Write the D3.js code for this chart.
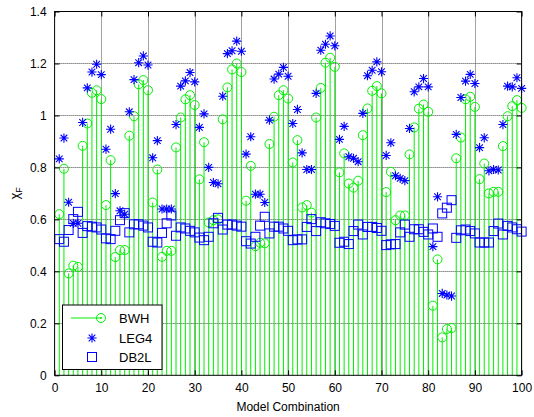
<!DOCTYPE html>
<html>
<head>
<meta charset="utf-8">
<script src="https://cdn.jsdelivr.net/npm/d3@7/dist/d3.min.js"></script>
<style>
  html, body { margin: 0; padding: 0; background: #fff; }
  svg { display: block; font-family: "Liberation Sans", Arial, sans-serif; }
</style>
</head>
<body>
<svg id="chart" width="534" height="417"></svg>
<script>
// Model combination index 1..100
const combos = d3.range(1, 101);

// chi_F per model combination
const bwh = [
  0.620, 0.795, 0.392, 0.422, 0.417, 0.883, 0.969, 1.087, 1.097, 1.063,
  0.655, 0.828, 0.455, 0.482, 0.482, 0.922, 0.997, 1.120, 1.136, 1.097,
  0.665, 0.792, 0.456, 0.479, 0.479, 0.877, 0.992, 1.062, 1.078, 1.040,
  0.754, 0.897, 0.588, 0.597, 0.600, 0.985, 1.108, 1.177, 1.200, 1.167,
  0.672, 0.806, 0.497, 0.510, 0.508, 0.890, 0.995, 1.078, 1.097, 1.065,
  0.819, 0.905, 0.646, 0.655, 0.626, 0.992, 1.106, 1.203, 1.222, 1.187,
  0.781, 0.854, 0.738, 0.722, 0.749, 0.924, 1.027, 1.095, 1.113, 1.085,
  0.705, 0.783, 0.597, 0.615, 0.615, 0.850, 0.954, 1.026, 1.042, 1.014,
  0.268, 0.446, 0.146, 0.178, 0.182, 0.835, 0.915, 1.062, 1.072, 1.033,
  0.755, 0.815, 0.700, 0.706, 0.706, 0.882, 0.997, 1.036, 1.059, 1.029
];

const leg4 = [
  0.833, 0.913, 0.666, 0.585, 0.585, 0.973, 1.106, 1.167, 1.197, 1.157,
  0.870, 0.947, 0.699, 0.633, 0.620, 1.014, 1.138, 1.203, 1.229, 1.194,
  0.837, 0.903, 0.640, 0.640, 0.640, 0.965, 1.113, 1.133, 1.165, 1.129,
  0.954, 1.006, 0.800, 0.742, 0.737, 1.074, 1.238, 1.249, 1.286, 1.247,
  0.851, 0.918, 0.697, 0.697, 0.665, 0.982, 1.140, 1.159, 1.185, 1.151,
  0.969, 1.023, 0.856, 0.792, 0.792, 1.085, 1.251, 1.274, 1.306, 1.268,
  0.908, 0.958, 0.841, 0.835, 0.822, 1.008, 1.153, 1.174, 1.206, 1.168,
  0.846, 0.895, 0.768, 0.758, 0.749, 0.950, 1.091, 1.110, 1.142, 1.110,
  0.495, 0.687, 0.315, 0.309, 0.305, 0.927, 1.069, 1.132, 1.158, 1.123,
  0.876, 0.914, 0.787, 0.792, 0.790, 0.965, 1.113, 1.110, 1.145, 1.104
];

const db2l = [
  0.524, 0.514, 0.559, 0.601, 0.629, 0.548, 0.574, 0.572, 0.569, 0.561,
  0.527, 0.524, 0.556, 0.597, 0.624, 0.550, 0.581, 0.581, 0.576, 0.569,
  0.514, 0.511, 0.548, 0.585, 0.615, 0.537, 0.569, 0.565, 0.556, 0.550,
  0.530, 0.520, 0.533, 0.585, 0.606, 0.561, 0.580, 0.580, 0.576, 0.572,
  0.516, 0.507, 0.533, 0.576, 0.610, 0.546, 0.572, 0.572, 0.565, 0.556,
  0.520, 0.523, 0.523, 0.571, 0.601, 0.555, 0.589, 0.585, 0.582, 0.575,
  0.510, 0.514, 0.505, 0.555, 0.580, 0.542, 0.571, 0.571, 0.567, 0.556,
  0.501, 0.504, 0.505, 0.550, 0.580, 0.533, 0.562, 0.562, 0.552, 0.542,
  0.565, 0.533, 0.623, 0.645, 0.674, 0.529, 0.558, 0.561, 0.555, 0.546,
  0.511, 0.511, 0.511, 0.555, 0.584, 0.542, 0.575, 0.569, 0.562, 0.553
];

const xTicks = d3.range(0, 101, 10);
const yTicks = [0, 0.2, 0.4, 0.6, 0.8, 1.0, 1.2, 1.4];
const seriesNames = ["BWH", "LEG4", "DB2L"];

const svg = d3.select("#chart");
const plot = { left: 54.6, right: 521.6, top: 11.5, bottom: 375.3 };

const x = d3.scaleLinear().domain([0, 100]).range([plot.left, plot.right]);
const y = d3.scaleLinear().domain([0, 1.4]).range([plot.bottom, plot.top]);

const green = "#00f000";
const blue = "#0000ff";

// plot area background
svg.append("rect")
  .attr("x", plot.left).attr("y", plot.top)
  .attr("width", plot.right - plot.left).attr("height", plot.bottom - plot.top)
  .attr("fill", "#fff");

// dotted grid
const grid = svg.append("g").attr("stroke", "#444").attr("stroke-width", 1)
  .attr("stroke-dasharray", "1,1");
grid.selectAll("line.gx").data(xTicks.slice(1, -1)).join("line")
  .attr("x1", d => Math.round(x(d)) + 0.5).attr("x2", d => Math.round(x(d)) + 0.5)
  .attr("y1", plot.top).attr("y2", plot.bottom);
grid.selectAll("line.gy").data(yTicks.slice(1, -1)).join("line")
  .attr("x1", plot.left).attr("x2", plot.right)
  .attr("y1", d => Math.round(y(d)) + 0.5).attr("y2", d => Math.round(y(d)) + 0.5);

const idx = combos.map((c, i) => i);

// BWH stems
svg.append("g").selectAll("line").data(idx).join("line")
  .attr("x1", i => x(combos[i])).attr("x2", i => x(combos[i]))
  .attr("y1", y(0)).attr("y2", i => y(bwh[i]))
  .attr("stroke", green).attr("stroke-width", 1);

// BWH markers
svg.append("g").selectAll("circle").data(idx).join("circle")
  .attr("cx", i => x(combos[i])).attr("cy", i => y(bwh[i]))
  .attr("r", 4.5).attr("fill", "none").attr("stroke", green).attr("stroke-width", 1);

// asterisk marker path
function starPath(s) {
  const d = s * 0.72;
  return `M${-s},0H${s}M0,${-s}V${s}M${-d},${-d}L${d},${d}M${-d},${d}L${d},${-d}`;
}

svg.append("g").selectAll("path").data(idx).join("path")
  .attr("transform", i => `translate(${x(combos[i])},${y(leg4[i])})`)
  .attr("d", starPath(4.6)).attr("fill", "none")
  .attr("stroke", blue).attr("stroke-width", 1.1);

// DB2L squares
svg.append("g").selectAll("rect").data(idx).join("rect")
  .attr("x", i => x(combos[i]) - 4.5).attr("y", i => y(db2l[i]) - 4.5)
  .attr("width", 9).attr("height", 9)
  .attr("fill", "none").attr("stroke", blue).attr("stroke-width", 1);

// axes box
svg.append("rect")
  .attr("x", plot.left).attr("y", plot.top)
  .attr("width", plot.right - plot.left).attr("height", plot.bottom - plot.top)
  .attr("fill", "none").attr("stroke", "#000").attr("stroke-width", 1);

// axes with inward ticks
const xAxis = d3.axisBottom(x).tickValues(xTicks).tickSizeInner(-5).tickSizeOuter(0).tickPadding(8)
  .tickFormat(d3.format("d"));
const yAxis = d3.axisLeft(y).tickValues(yTicks).tickSizeInner(-5).tickSizeOuter(0).tickPadding(8)
  .tickFormat(d => d3.format("~g")(+d.toFixed(1)));

const gx = svg.append("g").attr("transform", `translate(0,${plot.bottom})`).call(xAxis);
const gy = svg.append("g").attr("transform", `translate(${plot.left},0)`).call(yAxis);
[gx, gy].forEach(g => {
  g.select(".domain").remove();
  g.selectAll("text").attr("font-size", 12).attr("fill", "#000")
    .attr("font-family", "'Liberation Sans', Arial, sans-serif");
  g.selectAll("line").attr("stroke", "#000");
});

// ticks on top and right edges
const gxt = svg.append("g").attr("transform", `translate(0,${plot.top})`)
  .call(d3.axisTop(x).tickValues(xTicks).tickSizeInner(-5).tickSizeOuter(0).tickFormat(""));
const gyr = svg.append("g").attr("transform", `translate(${plot.right},0)`)
  .call(d3.axisRight(y).tickValues(yTicks).tickSizeInner(-5).tickSizeOuter(0).tickFormat(""));
[gxt, gyr].forEach(g => { g.select(".domain").remove(); g.selectAll("line").attr("stroke", "#000"); });

// axis titles
svg.append("text")
  .attr("x", (plot.left + plot.right) / 2).attr("y", 411)
  .attr("text-anchor", "middle").attr("font-size", 12).attr("fill", "#000")
  .text("Model Combination");

const yl = svg.append("text")
  .attr("transform", `translate(19,${(plot.top + plot.bottom) / 2}) rotate(-90)`)
  .attr("text-anchor", "middle").attr("font-size", 13).attr("fill", "#000");
yl.append("tspan").text("χ");
yl.append("tspan").attr("font-size", 9).attr("dy", 3).text("F");

// legend
const lg = svg.append("g");
lg.append("rect")
  .attr("x", 62.5).attr("y", 305).attr("width", 99.5).attr("height", 64.5)
  .attr("fill", "#fff").attr("stroke", "#000").attr("stroke-width", 1);

const rows = [318, 338, 357];
lg.append("line").attr("x1", 71).attr("x2", 101).attr("y1", rows[0]).attr("y2", rows[0])
  .attr("stroke", green).attr("stroke-width", 1);
lg.append("circle").attr("cx", 101).attr("cy", rows[0]).attr("r", 4.5)
  .attr("fill", "none").attr("stroke", green);
lg.append("circle").attr("cx", 101).attr("cy", rows[0]).attr("r", 1).attr("fill", green);
lg.append("path").attr("transform", `translate(92,${rows[1]})`).attr("d", starPath(4.6))
  .attr("fill", "none").attr("stroke", blue).attr("stroke-width", 1.1);
lg.append("rect").attr("x", 92 - 4.5).attr("y", rows[2] - 4.5).attr("width", 9).attr("height", 9)
  .attr("fill", "none").attr("stroke", blue);

lg.selectAll("text.lt").data(seriesNames).join("text")
  .attr("x", 119).attr("y", (d, i) => rows[i]).attr("dy", "0.35em")
  .attr("font-size", 13).attr("fill", "#000").text(d => d);
</script>
</body>
</html>
